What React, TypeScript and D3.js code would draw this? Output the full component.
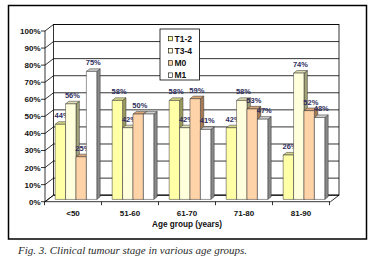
import React from "react";
import * as d3 from "d3";

const categories = ["<50", "51-60", "61-70", "71-80", "81-90"];
const seriesNames = ["T1-2", "T3-4", "M0", "M1"];
const t12 = [44, 58, 58, 42, 26];
const t34 = [56, 42, 42, 58, 74];
const m0 = [25, 50, 59, 53, 52];
const m1 = [75, 50, 41, 47, 48];
const yTicks = [0, 10, 20, 30, 40, 50, 60, 70, 80, 90, 100];

const seriesValues = [t12, t34, m0, m1];
const fronts = ["#FFFFA6", "#FFFFDC", "#FFD3A8", "#FFFFFF"];
const tops = ["#D6D68A", "#DCDCB0", "#D9A67A", "#CFCFCF"];
const sides = ["#9C9C5E", "#A3A37A", "#A67A55", "#8A8A8A"];

export default function App() {
  const W = 372, H = 263;
  const front0 = 201.7, front100 = 31;
  const yScale = d3.scaleLinear().domain([0, 100]).range([front0, front100]);
  const DX = 8.5, DY = -6.5; // full depth vector
  const x0 = 45, x1 = 330.5;
  const xBand = d3.scaleBand<string>().domain(categories).range([44.5, 329.5]).padding(0);
  const inner = d3.scaleBand<string>().domain(seriesNames).range([0, 41.6]).padding(0);
  const bw = inner.bandwidth();
  const f0 = 0.35, fd = 0.4;
  const ox = DX * f0, oy = DY * f0;
  const bdx = DX * fd, bdy = DY * fd;

  const bars: JSX.Element[] = [];
  categories.forEach((c, ci) => {
    seriesNames.forEach((s, si) => {
      const v = seriesValues[si][ci];
      const prev = si > 0 ? seriesValues[si - 1][ci] : null;
      const showLabel = prev !== v;
      const x = (xBand(c) as number) + 7.7 + (inner(s) as number) + ox;
      const yb = yScale(0) + oy;
      const yt = yScale(v) + oy;
      const front = `M${x},${yb}L${x},${yt}L${x + bw},${yt}L${x + bw},${yb}Z`;
      const top = `M${x},${yt}L${x + bdx},${yt + bdy}L${x + bw + bdx},${yt + bdy}L${x + bw},${yt}Z`;
      const side = `M${x + bw},${yt}L${x + bw + bdx},${yt + bdy}L${x + bw + bdx},${yb + bdy}L${x + bw},${yb}Z`;
      bars.push(
        <g key={`${ci}-${si}`}>
          <path d={side} fill={sides[si]} stroke="#333" strokeWidth={0.5} />
          <path d={top} fill={tops[si]} stroke="#333" strokeWidth={0.5} />
          <path d={front} fill={fronts[si]} stroke="#333" strokeWidth={0.5} />
          {showLabel && (
            <text
              x={x + (bw + bdx) / 2}
              y={yt + bdy - 3.5}
              textAnchor="middle"
              fontFamily="Liberation Sans, Arial, sans-serif"
              fontWeight="bold"
              fontSize={7.5}
              fill="#2E2E5E"
            >
              {v}%
            </text>
          )}
        </g>
      );
    });
  });

  const font = "Liberation Sans, Arial, sans-serif";

  return (
    <svg width={W} height={H} style={{ position: "absolute", left: 0, top: 0, background: "#fff" }}>
      <rect x={0} y={0} width={W} height={H} fill="#fff" />
      <rect x={8.5} y={5.5} width={358} height={233.5} fill="#fff" stroke="#000" strokeWidth={1.5} />
      {/* back wall */}
      <rect x={x0 + DX} y={yScale(100) + DY} width={x1 - x0} height={yScale(0) - yScale(100)} fill="#fff" stroke="#000" strokeWidth={0.8} />
      {/* floor */}
      <path
        d={`M${x0},${front0}L${x1},${front0}L${x1 + DX},${front0 + DY}L${x0 + DX},${front0 + DY}Z`}
        fill="#fff"
        stroke="#000"
        strokeWidth={0.8}
      />
      {/* gridlines */}
      {yTicks.map((t) => (
        <g key={t}>
          <line x1={x0 + DX} x2={x1 + DX} y1={yScale(t) + DY} y2={yScale(t) + DY} stroke="#000" strokeWidth={0.8} />
          <line x1={x0} x2={x0 + DX} y1={yScale(t)} y2={yScale(t) + DY} stroke="#000" strokeWidth={0.8} />
          <line x1={41} x2={x0} y1={yScale(t)} y2={yScale(t)} stroke="#000" strokeWidth={0.8} />
          <text x={40.5} y={yScale(t) + 3} textAnchor="end" fontFamily={font} fontWeight="bold" fontSize={8} fill="#111">
            {t}%
          </text>
        </g>
      ))}
      <line x1={x0} x2={x0} y1={yScale(100)} y2={front0} stroke="#000" strokeWidth={0.8} />
      {/* category ticks */}
      {categories.map((c) => (
        <line key={c} x1={xBand(c) as number} x2={xBand(c) as number} y1={front0} y2={front0 + 3.5} stroke="#000" strokeWidth={0.8} />
      ))}
      <line x1={329.5} x2={329.5} y1={front0} y2={front0 + 3.5} stroke="#000" strokeWidth={0.8} />
      {bars}
      {categories.map((c) => (
        <text
          key={c}
          x={(xBand(c) as number) + xBand.bandwidth() / 2}
          y={216}
          textAnchor="middle"
          fontFamily={font}
          fontWeight="bold"
          fontSize={8}
          fill="#111"
        >
          {c}
        </text>
      ))}
      <text x={187} y={226.5} textAnchor="middle" fontFamily={font} fontWeight="bold" fontSize={8.2} fill="#111">
        Age group (years)
      </text>
      {/* legend */}
      <rect x={160} y={29} width={39.5} height={51} fill="#fff" stroke="#000" strokeWidth={0.8} />
      {seriesNames.map((s, i) => (
        <g key={s}>
          <rect x={168.5} y={36.3 + i * 12.2} width={4} height={4.5} fill={fronts[i]} stroke="#000" strokeWidth={0.6} />
          <text x={174.5} y={41.5 + i * 12.2} fontFamily={font} fontWeight="bold" fontSize={8.5} fill="#111">
            {s}
          </text>
        </g>
      ))}
      <text x={18} y={254} fontFamily="Liberation Serif, Times New Roman, serif" fontStyle="italic" fontSize={11} fill="#2a2a2a">
        Fig. 3. Clinical tumour stage in various age groups.
      </text>
    </svg>
  );
}
